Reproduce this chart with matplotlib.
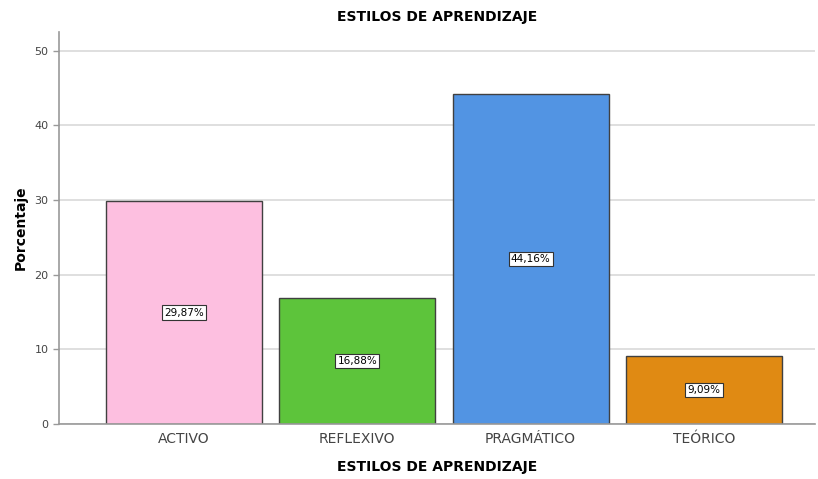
import numpy as np
import matplotlib.pyplot as plt

estilos = ['ACTIVO', 'REFLEXIVO', 'PRAGMÁTICO', 'TEÓRICO']
porcentajes = [29.87, 16.88, 44.16, 9.09]
etiquetas = ['29,87%', '16,88%', '44,16%', '9,09%']
colores = ['#fdbfe0', '#5dc43b', '#5294e3', '#e08a13']

fig = plt.figure(figsize=(8.18, 4.79), dpi=100)
ax = fig.add_axes([0.0721, 0.1148, 0.9242, 0.8182])

x = np.arange(len(estilos))
ax.set_axisbelow(True)
ax.yaxis.grid(True, color='#d9d9d9', linewidth=1.2)
ax.bar(x, porcentajes, width=0.9, color=colores, edgecolor='#404040', linewidth=1)

for xi, v, lab in zip(x, porcentajes, etiquetas):
    ax.text(xi, v / 2, lab, ha='center', va='center', fontsize=7.5, color='black',
            bbox=dict(boxstyle='square,pad=0.2', facecolor='white', edgecolor='#333333', linewidth=0.8))

ax.set_xlim(-0.72, 3.64)
ax.set_ylim(0, 52.5)
ax.set_yticks([0, 10, 20, 30, 40, 50])
ax.set_xticks(x)
ax.set_xticklabels(estilos, fontsize=10, color='#444444')
ax.tick_params(axis='y', labelsize=8, colors='#444444', length=4, width=1, color='#999999')
ax.tick_params(axis='x', length=0, pad=6)

for s in ['top', 'right']:
    ax.spines[s].set_visible(False)
ax.spines['left'].set_color('#999999')
ax.spines['bottom'].set_color('#999999')
ax.spines['left'].set_linewidth(1.2)
ax.spines['bottom'].set_linewidth(1.2)

ax.set_title('ESTILOS DE APRENDIZAJE', fontsize=10, fontweight='bold', pad=8)
ax.set_xlabel('ESTILOS DE APRENDIZAJE', fontsize=10, fontweight='bold', labelpad=10)
ax.set_ylabel('Porcentaje', fontsize=10, fontweight='bold', labelpad=5)

fig.savefig('out.png', dpi=100)
